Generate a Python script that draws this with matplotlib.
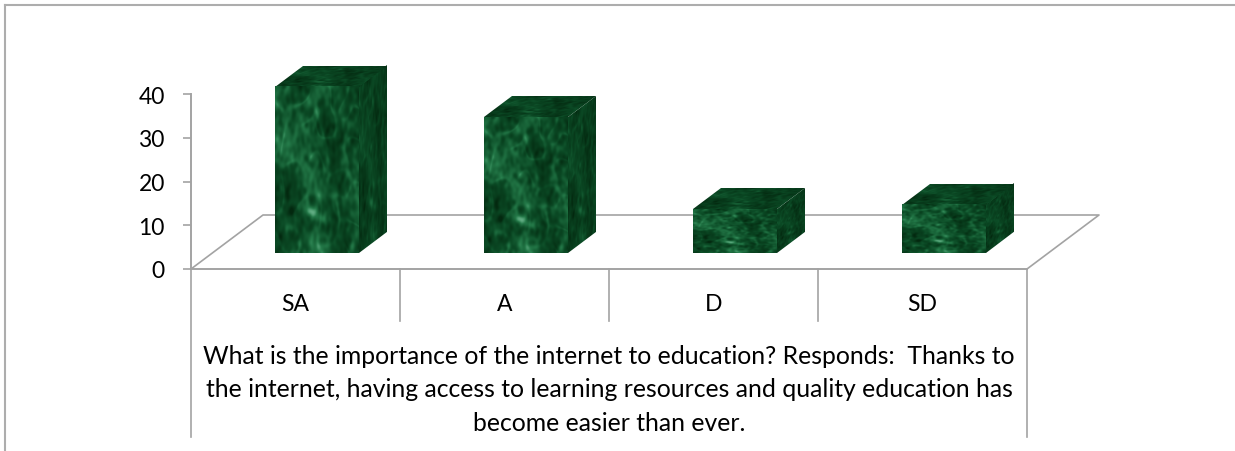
import numpy as np
import matplotlib
matplotlib.use("Agg")
from matplotlib import pyplot as plt
from matplotlib.colors import LinearSegmentedColormap
from matplotlib.lines import Line2D
from matplotlib.transforms import Affine2D

categories = ["SA", "A", "D", "SD"]
values = [38, 31, 10, 11]
y_ticks = [0, 10, 20, 30, 40]
x_title = ("What is the importance of the internet to education? Responds:  Thanks to\n"
           "the internet, having access to learning resources and quality education has\n"
           "become easier than ever.")

W, H = 1235, 452
LINE = "#a3a3a3"
plt.rcParams['font.family'] = ['Lato', 'DejaVu Sans']


def waves(u, v, f0, f1, count, start):
    # many sines in golden-angle directions, looks like noise but is fixed
    out = np.zeros_like(u)
    for k in range(count):
        f = f0*(f1/f0)**(k/(count-1))
        a = (k+start)*2.39996
        out += np.sin(f*(np.cos(a)*u + np.sin(a)*v) + (k+start)*1.7)*(f0/f)**0.8
    return out/np.sqrt(count)


def marble(n=300):
    # green marble, same sheet stretched on every face
    v, u = np.mgrid[0:1:n*1j, 0:1:n*1j]
    wu = u + 0.03*waves(u, v, 5, 14, 8, 3)
    wv = v + 0.03*waves(u, v, 5, 14, 8, 31)
    cloud = waves(wu, wv, 7, 24, 24, 0)
    fine = waves(u, v, 40, 130, 50, 60)
    ridge = np.exp(-(waves(wu, wv, 7, 20, 20, 11)/0.2)**2)
    ridge2 = np.exp(-(waves(wu, wv, 12, 32, 20, 47)/0.16)**2)
    glow = (np.exp(-(((u-0.45)/0.22)**2 + ((v-0.76-0.25*(u-0.45))/0.035)**2))*0.8
            + np.exp(-(((u-0.32-0.4*(v-0.2))/0.04)**2 + ((v-0.2)/0.08)**2))*0.5
            + np.exp(-(((u-0.8)/0.1)**2 + ((v-0.46+0.4*(u-0.8))/0.03)**2))*0.5)
    return np.clip(0.30 + 0.2*cloud + 0.13*fine + 0.14*ridge + 0.12*ridge2 + 0.4*glow, 0, 1)


cmap = LinearSegmentedColormap.from_list(
    "marble", ["#03280f", "#0b4a25", "#247a49", "#74bd95"])
sheet = marble()

fig = plt.figure(figsize=(W/100, H/100), dpi=100)
ax = fig.add_axes([191/W, (H-270)/H, 836/W, 175/H])
ax.patch.set_visible(False)

# sizes of the fake 3d box, pixels turned into data units
px_x = 4/836
px_y = 40/175
floor_dx, floor_dy = 72*px_x, 54*px_y
box_dx, box_dy = 28*px_x, 21*px_y
bar_lift = 16*px_y
bar_left = 84*px_x
bar_w = 84*px_x
n = len(categories)


def face(x0, y0, ex, ey, fx, fy, shade, z):
    tr = Affine2D.from_values(ex, ey, fx, fy, x0, y0) + ax.transData
    ax.imshow(sheet*shade, cmap=cmap, vmin=0, vmax=1, extent=(0, 1, 0, 1),
              transform=tr, aspect='auto', clip_on=False, zorder=z,
              interpolation='bilinear')


# floor
ax.plot([0, floor_dx, n+floor_dx, n], [0, floor_dy, floor_dy, 0],
        color=LINE, lw=1.2, clip_on=False, zorder=1)

for i, val in enumerate(values):
    x0 = i + bar_left
    y0 = bar_lift
    face(x0, y0, bar_w, 0, 0, val, 1.0, 3)
    face(x0+bar_w, y0, box_dx, box_dy, 0, val, 0.6, 2)
    face(x0, y0+val, bar_w, 0, box_dx, box_dy, 0.65, 2)

ax.set_xlim(0, n)
ax.set_ylim(0, 40)

for s in ['top', 'right']:
    ax.spines[s].set_visible(False)
for s in ['left', 'bottom']:
    ax.spines[s].set_color(LINE)
    ax.spines[s].set_linewidth(1.4)

ax.set_yticks(y_ticks)
ax.tick_params(axis='y', length=5.8, width=1.2, color=LINE, pad=13, labelsize=16.5)
ax.set_xticks(np.arange(n)+0.5, categories)
ax.tick_params(axis='x', length=0, pad=17, labelsize=16.5)
ax.set_xlabel(x_title, fontsize=17.8, labelpad=22, linespacing=1.54)

# category dividers hanging under the axis
drop = 52*px_y
long_drop = 168*px_y
for i in range(n+1):
    low = -long_drop if i in (0, n) else -drop
    ax.plot([i, i], [0, low], color=LINE, lw=1.2, clip_on=False, zorder=1)

# chart frame, only top and left survive in the crop
fig.add_artist(Line2D([5/W, 1], [1-6/H, 1-6/H], color="#adadad", lw=1.5))
fig.add_artist(Line2D([5/W, 5/W], [0, 1-6/H], color="#adadad", lw=1.5))

fig.savefig("out.png", dpi=100)
